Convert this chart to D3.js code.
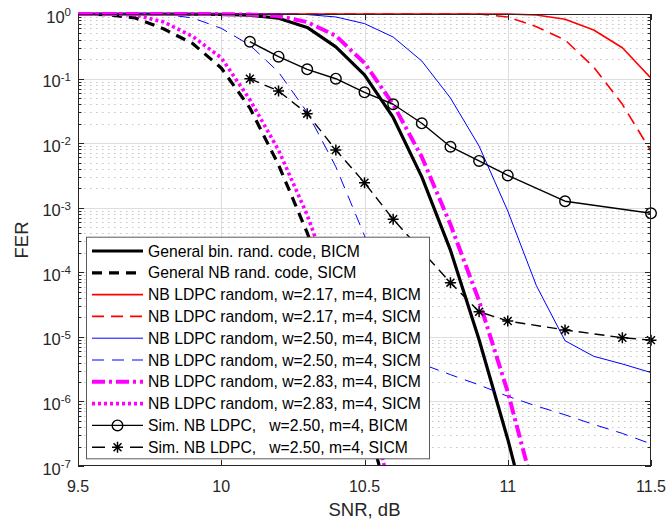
<!DOCTYPE html>
<html>
<head>
<meta charset="utf-8">
<script src="https://cdn.jsdelivr.net/npm/d3@7/dist/d3.min.js"></script>
<style>
  body { margin: 0; background: #fff; }
  svg { font-family: "Liberation Sans", Arial, sans-serif; }
  .legend text { white-space: pre; }
</style>
</head>
<body>
<div id="chart"></div>
<script>
// SNR (dB) and FER readings per curve
const snrGenBin = [9.5, 9.6, 9.7, 9.8, 9.9, 10.0, 10.1, 10.2, 10.3, 10.4, 10.5, 10.6, 10.7, 10.8, 10.9, 11.0, 11.1];
const ferGenBin = [1, 1, 1, 1, 0.995, 0.985, 0.96, 0.86, 0.62, 0.31, 0.114, 0.025, 0.003, 2.2e-4, 9e-6, 2.6e-7, 5e-9];

const snrGenNb = [9.5, 9.6, 9.7, 9.8, 9.9, 10.0, 10.1, 10.2, 10.3, 10.4, 10.5, 10.6];
const ferGenNb = [1, 0.98, 0.87, 0.585, 0.35, 0.146, 0.035, 0.0046, 4.1e-4, 2.3e-5, 7.5e-7, 1.5e-8];

const snrGrid = [9.5, 9.6, 9.7, 9.8, 9.9, 10.0, 10.1, 10.2, 10.3, 10.4, 10.5, 10.6, 10.7, 10.8, 10.9, 11.0, 11.1, 11.2, 11.3, 11.4, 11.5];
const fer217Bicm = [1, 1, 1, 1, 1, 1, 1, 1, 1, 1, 1, 1, 1, 1, 1, 1, 0.965, 0.83, 0.565, 0.30, 0.101];
const fer217Sicm = [1, 1, 1, 1, 1, 1, 1, 1, 1, 1, 1, 1, 1, 1, 1, 0.9, 0.636, 0.396, 0.151, 0.040, 0.0075];
const fer250Bicm = [1, 1, 1, 1, 1, 1, 1, 1, 0.98, 0.9, 0.71, 0.44, 0.187, 0.05, 0.009, 8.9e-4, 6.2e-5, 8.7e-6, 5.0e-6, 3.8e-6, 2.8e-6];
const fer250Sicm = [1, 1, 1, 0.99, 0.87, 0.6, 0.33, 0.126, 0.030, 0.0043, 3.7e-4, 5.9e-6, 3.8e-6, 2.6e-6, 1.8e-6, 1.2e-6, 8.5e-7, 6.2e-7, 4.4e-7, 3.2e-7, 2.2e-7];

const snr283 = [9.5, 9.6, 9.7, 9.8, 9.9, 10.0, 10.1, 10.2, 10.3, 10.4, 10.5, 10.6, 10.7, 10.8, 10.9, 11.0, 11.1];
const fer283Bicm = [1, 1, 1, 1, 1, 0.995, 0.98, 0.93, 0.75, 0.46, 0.174, 0.04, 0.0061, 5.5e-4, 3.6e-5, 1.4e-6, 3e-8];
const snr283Sicm = [9.5, 9.6, 9.7, 9.8, 9.9, 10.0, 10.1, 10.2, 10.3, 10.4, 10.5, 10.6];
const fer283Sicm = [1, 1, 0.97, 0.75, 0.45, 0.21, 0.047, 0.0078, 7.7e-4, 4.5e-5, 1.5e-6, 3e-8];

const snrSimBicm = [10.1, 10.2, 10.3, 10.4, 10.5, 10.6, 10.7, 10.8, 10.9, 11.0, 11.2, 11.5];
const ferSimBicm = [0.372, 0.218, 0.139, 0.0995, 0.0613, 0.040, 0.0203, 0.0088, 0.0053, 0.00316, 0.00126, 0.00082];
const snrSimSicm = [10.1, 10.2, 10.3, 10.4, 10.5, 10.6, 10.7, 10.8, 10.9, 11.0, 11.2, 11.4, 11.5];
const ferSimSicm = [0.0995, 0.0642, 0.0286, 0.00783, 0.00244, 0.000662, 0.000214, 6.9e-5, 2.45e-5, 1.76e-5, 1.28e-5, 9.7e-6, 8.9e-6];

const legendLabels = [
  "General bin. rand. code, BICM",
  "General NB rand. code, SICM",
  "NB LDPC random, w=2.17, m=4, BICM",
  "NB LDPC random, w=2.17, m=4, SICM",
  "NB LDPC random, w=2.50, m=4, BICM",
  "NB LDPC random, w=2.50, m=4, SICM",
  "NB LDPC random, w=2.83, m=4, BICM",
  "NB LDPC random, w=2.83, m=4, SICM",
  "Sim. NB LDPC,   w=2.50, m=4, BICM",
  "Sim. NB LDPC,   w=2.50, m=4, SICM"
];

const xTicks = [9.5, 10, 10.5, 11, 11.5];
const xTickLabels = ["9.5", "10", "10.5", "11", "11.5"];
const yExponents = [0, -1, -2, -3, -4, -5, -6, -7];

const zip = (xs, ys) => xs.map((v, i) => [v, ys[i]]);

const series = [
  { pts: zip(snrGenBin, ferGenBin), color: "#000", width: 3.2, dash: null },
  { pts: zip(snrGenNb, ferGenNb), color: "#000", width: 3.2, dash: "10,7" },
  { pts: zip(snrGrid, fer217Bicm), color: "#ff0000", width: 1.6, dash: null },
  { pts: zip(snrGrid, fer217Sicm), color: "#ff0000", width: 1.6, dash: "12,7" },
  { pts: zip(snrGrid, fer250Bicm), color: "#0000ff", width: 1, dash: null },
  { pts: zip(snrGrid, fer250Sicm), color: "#0000ff", width: 1, dash: "12,8" },
  { pts: zip(snr283, fer283Bicm), color: "#ff00ff", width: 4, dash: "13,4,3,4" },
  { pts: zip(snr283Sicm, fer283Sicm), color: "#ff00ff", width: 3.6, dash: "3,3" },
  { pts: zip(snrSimBicm, ferSimBicm), color: "#000", width: 1.4, dash: null, marker: "circle" },
  { pts: zip(snrSimSicm, ferSimSicm), color: "#000", width: 1.4, dash: "10,6", marker: "star" }
];

const W = 670, H = 528;
const margin = { top: 14, right: 19, bottom: 62, left: 78 };
const width = W - margin.left - margin.right;
const height = H - margin.top - margin.bottom;
const axisColor = "#262626";

const x = d3.scaleLinear().domain([9.5, 11.5]).range([0, width]);
const y = d3.scaleLog().domain([1e-7, 1]).range([height, 0]);

const svg = d3.select("#chart").append("svg")
  .attr("width", W)
  .attr("height", H);

const g = svg.append("g")
  .attr("transform", "translate(" + margin.left + "," + margin.top + ")");

g.append("defs").append("clipPath").attr("id", "plotclip")
  .append("rect")
  .attr("x", 0).attr("y", -4)
  .attr("width", width).attr("height", height + 4);

// minor grid (dotted)
let minorVals = [];
yExponents.slice(1).forEach(e => {
  for (let k = 2; k <= 9; k++) minorVals.push(k * Math.pow(10, e));
});
g.append("g").selectAll("line")
  .data(minorVals)
  .enter().append("line")
  .attr("x1", 0).attr("x2", width)
  .attr("y1", d => Math.round(y(d)) + 0.5).attr("y2", d => Math.round(y(d)) + 0.5)
  .attr("stroke", "#c4c4c4")
  .attr("stroke-dasharray", "1.5,4.5");

// major grid
g.append("g").selectAll("line")
  .data(yExponents.slice(1, -1))
  .enter().append("line")
  .attr("x1", 0).attr("x2", width)
  .attr("y1", d => Math.round(y(Math.pow(10, d))) + 0.5)
  .attr("y2", d => Math.round(y(Math.pow(10, d))) + 0.5)
  .attr("stroke", "#dedede");
g.append("g").selectAll("line")
  .data(xTicks.slice(1, -1))
  .enter().append("line")
  .attr("y1", 0).attr("y2", height)
  .attr("x1", d => Math.round(x(d)) + 0.5).attr("x2", d => Math.round(x(d)) + 0.5)
  .attr("stroke", "#dedede");

// curves
const line = d3.line()
  .x(d => x(d[0]))
  .y(d => y(d[1]));

const curves = g.append("g").attr("clip-path", "url(#plotclip)");
series.forEach(s => {
  curves.append("path")
    .datum(s.pts)
    .attr("d", line)
    .attr("fill", "none")
    .attr("stroke", s.color)
    .attr("stroke-width", s.width)
    .attr("stroke-dasharray", s.dash)
    .attr("stroke-linejoin", "round");
});

function starPath(r) {
  const q = r * 0.72;
  return "M" + (-r) + ",0L" + r + ",0M0," + (-r) + "L0," + r +
    "M" + (-q) + "," + (-q) + "L" + q + "," + q +
    "M" + (-q) + "," + q + "L" + q + "," + (-q);
}

function drawMarker(sel, type) {
  if (type === "circle") {
    sel.append("circle").attr("r", 5.3)
      .attr("fill", "none").attr("stroke", "#000").attr("stroke-width", 1.4);
  } else if (type === "star") {
    sel.append("path").attr("d", starPath(5.5))
      .attr("fill", "none").attr("stroke", "#000").attr("stroke-width", 1.5);
  }
}

series.filter(s => s.marker).forEach(s => {
  const m = g.append("g").selectAll("g")
    .data(s.pts)
    .enter().append("g")
    .attr("transform", d => "translate(" + x(d[0]) + "," + y(d[1]) + ")");
  drawMarker(m, s.marker);
});

// axes box and ticks
const axes = g.append("g").attr("stroke", axisColor).attr("fill", "none");
axes.append("rect")
  .attr("x", 0.5).attr("y", 0.5)
  .attr("width", width - 1).attr("height", height - 1)
  .attr("stroke-width", 1);

xTicks.forEach(t => {
  const px = Math.round(x(t)) + 0.5;
  axes.append("line").attr("x1", px).attr("x2", px).attr("y1", height).attr("y2", height - 6);
  axes.append("line").attr("x1", px).attr("x2", px).attr("y1", 0).attr("y2", 6);
});
yExponents.forEach(e => {
  const py = Math.round(y(Math.pow(10, e))) + 0.5;
  axes.append("line").attr("x1", 0).attr("x2", 6).attr("y1", py).attr("y2", py);
  axes.append("line").attr("x1", width).attr("x2", width - 6).attr("y1", py).attr("y2", py);
});
minorVals.forEach(v => {
  const py = Math.round(y(v)) + 0.5;
  axes.append("line").attr("x1", 0).attr("x2", 3.5).attr("y1", py).attr("y2", py);
  axes.append("line").attr("x1", width).attr("x2", width - 3.5).attr("y1", py).attr("y2", py);
});

// tick labels
g.append("g").selectAll("text")
  .data(xTicks)
  .enter().append("text")
  .attr("x", d => x(d))
  .attr("y", height + 26)
  .attr("text-anchor", "middle")
  .attr("font-size", 16)
  .attr("fill", axisColor)
  .text((d, i) => xTickLabels[i]);

const yl = g.append("g").selectAll("text")
  .data(yExponents)
  .enter().append("text")
  .attr("x", -7)
  .attr("y", d => y(Math.pow(10, d)) + 8.5)
  .attr("text-anchor", "end")
  .attr("font-size", 16.5)
  .attr("fill", axisColor);
yl.append("tspan").text("10");
yl.append("tspan").attr("dy", -6.5).attr("font-size", 11.5).text(d => d === 0 ? "0" : "-" + Math.abs(d));

// axis titles
g.append("text")
  .attr("x", width / 2)
  .attr("y", height + 50)
  .attr("text-anchor", "middle")
  .attr("font-size", 18.5)
  .attr("fill", axisColor)
  .text("SNR, dB");

g.append("text")
  .attr("transform", "translate(" + (-50) + "," + (height / 2) + ") rotate(-90)")
  .attr("text-anchor", "middle")
  .attr("font-size", 18.5)
  .attr("fill", axisColor)
  .text("FER");

// legend
const legX = 8, legY = 222.7, legW = 343, legH = 221.6, rowH = 21.8;
const leg = g.append("g").attr("class", "legend")
  .attr("transform", "translate(" + legX + "," + legY + ")");
leg.append("rect")
  .attr("x", 0.5).attr("y", 0.5)
  .attr("width", legW).attr("height", legH)
  .attr("fill", "#fff")
  .attr("stroke", "#5a5a5a")
  .attr("stroke-width", 1);

series.forEach((s, i) => {
  const ry = 14.3 + i * rowH;
  const row = leg.append("g").attr("transform", "translate(0," + ry + ")");
  row.append("line")
    .attr("x1", 6).attr("x2", 57)
    .attr("y1", 0).attr("y2", 0)
    .attr("stroke", s.color)
    .attr("stroke-width", s.width)
    .attr("stroke-dasharray", s.marker === "star" ? "13,25,13" : s.dash);
  if (s.marker) {
    drawMarker(row.append("g").attr("transform", "translate(31.5,0)"), s.marker);
  }
  row.append("text")
    .attr("x", 62)
    .attr("y", 5.6)
    .attr("font-size", 15.7)
    .attr("fill", "#000")
    .text(legendLabels[i]);
});
</script>
</body>
</html>
